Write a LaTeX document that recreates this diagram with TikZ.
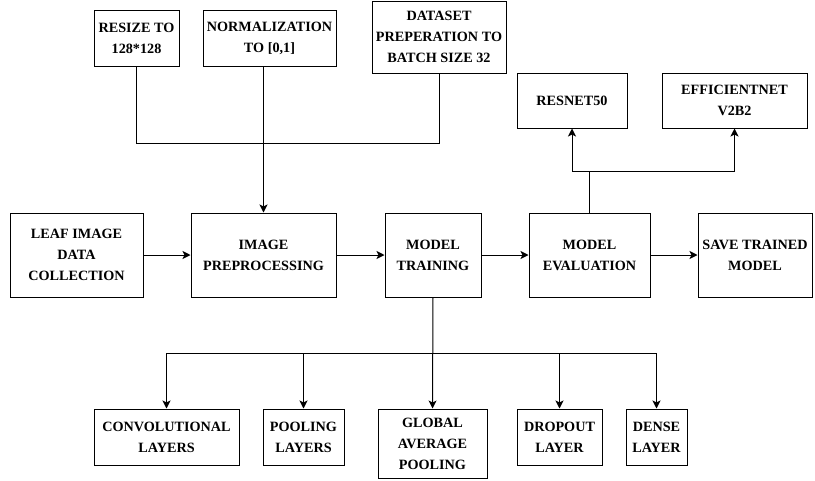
\documentclass[tikz,border=0pt]{standalone}
\usepackage{fontspec}
\setmainfont{Liberation Serif}
\usetikzlibrary{arrows.meta}

\tikzset{
  box/.style={draw,line width=1pt,align=center,inner sep=1pt,
    font={\fontsize{14.2}{21}\selectfont\bfseries}},
  flow/.style={line width=1pt,-{Stealth[length=8pt,width=8pt,inset=2pt]}},
  twoway/.style={line width=1pt,{Stealth[length=8pt,width=8pt,inset=2pt]}-{Stealth[length=8pt,width=8pt,inset=2pt]}},
  plain/.style={line width=1pt}
}

\begin{document}
\begin{tikzpicture}[x=1pt,y=-1pt]
      \useasboundingbox (0,0) rectangle (815,480);
      % preprocessing steps
      \node[box,minimum width=85pt,minimum height=56pt] (resize) at (136.5,38) {RESIZE TO\\128*128};
      \node[box,minimum width=133pt,minimum height=56pt] (norm) at (269.5,38) {NORMALIZATION\\TO [0,1]};
      \node[box,minimum width=134pt,minimum height=72pt] (dataset) at (439,37) {DATASET\\PREPERATION TO\\BATCH SIZE 32};
      % models
      \node[box,minimum width=110pt,minimum height=55pt] (resnet) at (572,100.5) {RESNET50};
      \node[box,minimum width=145pt,minimum height=55pt] (effnet) at (734.5,100.5) {EFFICIENTNET\\V2B2};
      % main pipeline
      \node[box,minimum width=133pt,minimum height=84pt] (leaf) at (76.5,255) {LEAF IMAGE\\DATA\\COLLECTION};
      \node[box,minimum width=145pt,minimum height=84pt] (prep) at (263.5,255) {IMAGE\\PREPROCESSING};
      \node[box,minimum width=96pt,minimum height=84pt] (train) at (433,255) {MODEL\\TRAINING};
      \node[box,minimum width=121pt,minimum height=84pt] (eval) at (589.5,255) {MODEL\\EVALUATION};
      \node[box,minimum width=114pt,minimum height=84pt] (save) at (755,255) {SAVE TRAINED\\MODEL};
      % layers
      \node[box,minimum width=145pt,minimum height=56pt] (conv) at (166.5,437) {CONVOLUTIONAL\\LAYERS};
      \node[box,minimum width=81pt,minimum height=56pt] (pool) at (303.5,437) {POOLING\\LAYERS};
      \node[box,minimum width=109pt,minimum height=69pt] (gap) at (432.5,443.5) {GLOBAL\\AVERAGE\\POOLING};
      \node[box,minimum width=85pt,minimum height=56pt] (drop) at (559.5,437) {DROPOUT\\LAYER};
      \node[box,minimum width=61pt,minimum height=56pt] (dense) at (656.5,437) {DENSE\\LAYER};

      % top junction
      \draw[plain] (resize.south) -- (resize.south |- 0,143) -- (dataset.south |- 0,143) -- (dataset.south);
      \draw[flow] (norm.south -| prep.north) -- (prep.north);
      % pipeline arrows
      \draw[flow] (leaf) -- (prep);
      \draw[flow] (prep) -- (train);
      \draw[flow] (train) -- (eval);
      \draw[flow] (eval) -- (save);
      % evaluation branches
      \draw[plain] (eval.north) -- (eval.north |- 0,171);
      \draw[twoway] (resnet.south) -- (resnet.south |- 0,171) -- (effnet.south |- 0,171) -- (effnet.south);
      % training branches
      \draw[flow] (train.south) -- (gap.north);
      \draw[twoway] (conv.north) -- (conv.north |- 0,353) -- (dense.north |- 0,353) -- (dense.north);
      \foreach \n in {pool,drop}
        \draw[flow] (\n.north |- 0,353) -- (\n.north);
\end{tikzpicture}
\end{document}
